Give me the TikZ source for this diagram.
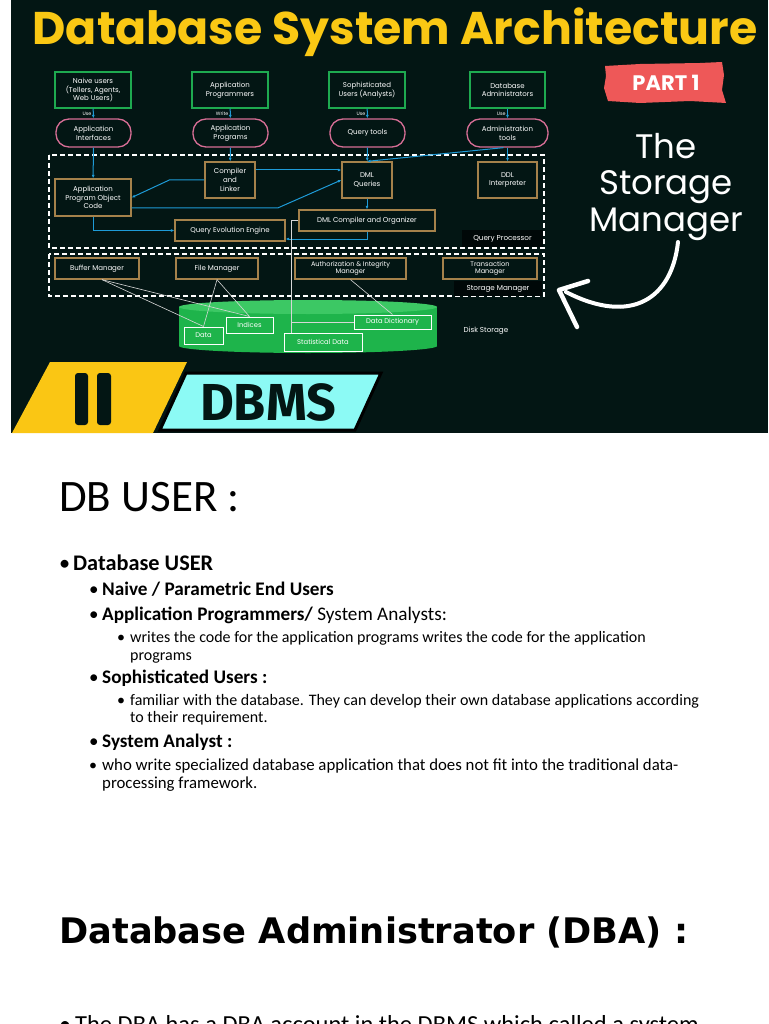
\documentclass[tikz,border=0pt]{standalone}
\usepackage{fontspec}
\usepackage{xcolor}
\usepackage{tikz}
\usetikzlibrary{positioning, arrows.meta}

\newfontfamily\diagfont{Poppins}
\newfontfamily\slidefont{Carlito}
\newfontfamily\headfont{DejaVu Sans}
\newfontfamily\bannerfont{Fira Sans}

\definecolor{panel}{RGB}{3,22,20}
\definecolor{titleyellow}{RGB}{250,200,20}
\definecolor{usergreen}{RGB}{30,170,80}
\definecolor{pillpink}{RGB}{215,110,150}
\definecolor{boxgold}{RGB}{165,130,75}
\definecolor{flowblue}{RGB}{30,155,215}
\definecolor{wiregray}{RGB}{215,215,215}
\definecolor{diskgreen}{RGB}{30,180,75}
\definecolor{disktop}{RGB}{60,200,100}
\definecolor{tagbg}{RGB}{0,8,8}
\definecolor{partred}{RGB}{238,88,88}
\definecolor{bandyellow}{RGB}{250,198,20}
\definecolor{bandcyan}{RGB}{140,250,245}

\begin{document}
\begin{tikzpicture}[
    x=1pt, y=-1pt,
    ubox/.style={draw=usergreen, line width=1.3pt, fill=panel, text=white, align=center, inner sep=0pt, font=\diagfont\fontsize{7}{8.8}\selectfont},
    pill/.style={draw=pillpink, line width=1.3pt, rounded corners=13pt, fill=panel, text=white, align=center, inner sep=0pt, minimum height=28pt, font=\diagfont\fontsize{7}{8.8}\selectfont},
    cbox/.style={draw=boxgold, line width=1.3pt, fill=panel, text=white, align=center, inner sep=0pt, font=\diagfont\fontsize{7}{8.8}\selectfont},
    dbox/.style={draw=white, line width=1pt, fill=diskgreen, text=white, align=center, inner sep=0pt, font=\diagfont\fontsize{6.8}{8}\selectfont},
    tag/.style={fill=tagbg, text=white, inner sep=0pt, font=\diagfont\fontsize{7.2}{8}\selectfont},
    uselbl/.style={text=white, inner sep=1.5pt, font=\diagfont\fontsize{4.8}{5}\selectfont},
    flow/.style={draw=flowblue, line width=1pt, -{Latex[length=3.5pt,width=3pt]}},
    wire/.style={draw=wiregray, line width=0.6pt},
    frame/.style={draw=white, dash pattern=on 5pt off 3pt, line width=1.3pt},
    bullet/.style={anchor=base west, inner sep=0pt},
    item/.style={anchor=base west, inner sep=0pt, align=left}
]
\useasboundingbox (0,0) rectangle (768,1024);
\fill[white] (0,0) rectangle (768,1024);
\fill[panel] (11,0) rectangle (768,433);

% title
\node[text=titleyellow, font=\diagfont\bfseries\fontsize{45.8}{48}\selectfont] (title) at (395,32) {Database System Architecture};

% disk
\fill[diskgreen] (179,307) rectangle (437,346);
\fill[diskgreen] (308,346) ellipse [x radius=129, y radius=7];
\fill[disktop] (308,307) ellipse [x radius=129, y radius=7];

% query processor / storage manager frames
\draw[frame] (49,155) rectangle (544,248);
\draw[frame] (49,254) rectangle (544,296);
\node[tag, minimum width=81pt, minimum height=17pt] (qplabel) at (502.5,238.5) {Query Processor};
\node[tag, minimum width=88pt, minimum height=15pt] (smlabel) at (498,288.5) {Storage Manager};
\node[text=white, inner sep=0pt, font=\diagfont\fontsize{7.2}{8}\selectfont] (disklabel) at (486,331) {Disk Storage};

% users
\node[ubox, minimum width=76pt, minimum height=36pt] (naive) at (93,90) {Naive users\\(Tellers, Agents,\\Web Users)};
\node[ubox, minimum width=76pt, minimum height=36pt] (appprog) at (230,90) {Application\\Programmers};
\node[ubox, minimum width=76pt, minimum height=36pt] (sophist) at (367,90) {Sophisticated\\Users (Analysts)};
\node[ubox, minimum width=75pt, minimum height=36pt] (dbadm) at (507.5,90) {Database\\Administrators};

% tools
\node[pill, minimum width=75pt] (appif) at (93.5,133) {Application\\Interfaces};
\node[pill, minimum width=75pt] (appprg) at (230.5,133) {Application\\Programs};
\node[pill, minimum width=75pt] (qtools) at (367.5,133) {Query tools};
\node[pill, minimum width=81pt] (admtools) at (507.5,133) {Administration\\tools};

% query processor parts
\node[cbox, minimum width=76pt, minimum height=37pt] (objcode) at (93,197.5) {Application\\Program Object\\Code};
\node[cbox, minimum width=50pt, minimum height=36pt] (compiler) at (230,180) {Compiler\\and\\Linker};
\node[cbox, minimum width=50pt, minimum height=36pt] (dmlq) at (367,180) {DML\\Queries};
\node[cbox, minimum width=59pt, minimum height=36pt] (ddl) at (507.5,180) {DDL\\Interpreter};
\node[cbox, minimum width=110pt, minimum height=21pt] (qee) at (230,230.5) {Query Evolution Engine};
\node[cbox, minimum width=136pt, minimum height=21pt] (dmlc) at (367,220.5) {DML Compiler and Organizer};

% storage manager parts
\node[cbox, minimum width=84pt, minimum height=21pt] (buffer) at (97,268.5) {Buffer Manager};
\node[cbox, minimum width=82pt, minimum height=21pt] (filem) at (217,268.5) {File Manager};
\node[cbox, minimum width=111pt, minimum height=21pt, font=\diagfont\fontsize{6.6}{7.6}\selectfont] (authm) at (350.5,268.5) {Authorization \& Integrity\\Manager};
\node[cbox, minimum width=94pt, minimum height=21pt, font=\diagfont\fontsize{6.6}{7.6}\selectfont] (transm) at (490,268.5) {Transaction\\Manager};

% disk contents
\node[dbox, minimum width=39pt, minimum height=17pt] (data) at (203.5,335.5) {Data};
\node[dbox, minimum width=47pt, minimum height=16pt] (indices) at (249.5,325) {Indices};
\node[dbox, minimum width=78pt, minimum height=18pt] (statd) at (323,342) {Statistical Data};
\node[dbox, minimum width=77pt, minimum height=14pt] (dictd) at (392.5,322) {Data Dictionary};

% blue flow
\draw[flow] (naive) -- node[uselbl, left] {Use} (appif);
\draw[flow] (appprog) -- node[uselbl, left] {Write} (appprg);
\draw[flow] (sophist) -- node[uselbl, left] {Use} (qtools);
\draw[flow] (dbadm) -- node[uselbl, left] {Use} (admtools);
\draw[flow] (appif) -- (objcode);
\draw[flow] (appprg) -- (compiler);
\draw[flow] (qtools) -- (dmlq);
\draw[flow] (admtools) -- (ddl);
\draw[flow] ([xshift=-4pt]admtools.south) -- (dmlq.north);
\draw[flow] (compiler.west) -- ++(-35,0) -- (objcode.east);
\draw[flow] ([yshift=10pt]compiler.east) -- ([yshift=10pt]dmlq.west);
\draw[flow] ([yshift=-10.5pt]objcode.east) -- ++(146,0) -- (dmlq.west);
\draw[flow] (objcode.south) |- (qee.west);
\draw[flow] (dmlq) -- (dmlc);
\draw[flow] (dmlc.south) |- ([yshift=-8.5pt]qee.east);

% white wires
\draw[wire] ([xshift=5pt]buffer.south) -- (data.north);
\draw[wire] ([xshift=5pt]buffer.south) -- (indices.north);
\draw[wire] (filem.south) -- (data.north);
\draw[wire] (filem.south) -- (indices.north);
\draw[wire] (authm.south) -- (dictd.north);
\draw[wire] (dmlc.west) -- ++(-7,0) coordinate (tap) -- (tap |- statd.north);
\draw[wire] (tap |- dictd.west) -- (dictd.west);

% right side
\fill[partred] (605,66) -- (640,64) -- (700,63) -- (722,62) -- (724,75) -- (722,90) -- (726,103) -- (690,101) -- (640,103) -- (608,101) -- (604,88) -- (606,76) -- cycle;
\node[text=white, font=\diagfont\bfseries\fontsize{21}{22}\selectfont] (part) at (666,83) {PART 1};
\node[text=white, align=center, font=\diagfont\fontsize{34}{36.5}\selectfont] (storage) at (666,187) {The\\Storage\\Manager};
\draw[white, line width=4pt, line cap=round] (678,242) .. controls (672,298) and (632,326) .. (566,292);
\draw[white, line width=4.5pt, line cap=round, line join=round] (588,281) -- (559,290) -- (577,327);

% bottom banner
\fill[bandyellow] (50,362) -- (187,362) -- (153,433) -- (12,433) -- cycle;
\fill[panel, rounded corners=3pt] (75,373) rectangle (88,425);
\fill[panel, rounded corners=3pt] (97,373) rectangle (111,425);
\filldraw[fill=bandcyan, draw=black, line width=3pt] (186,373) -- (381,373) -- (355,430) -- (160,430) -- cycle;
\node[text=panel, font=\bannerfont\bfseries\fontsize{52}{52}\selectfont] (dbms) at (268,402) {DBMS};

% slide text
\node[item, font=\slidefont\fontsize{45}{45}\selectfont] (dbuser) at (59,511) {DB USER :};

\node[bullet, font=\slidefont\fontsize{22.3}{26}\selectfont] (b1) at (59,570) {•};
\node[item, font=\slidefont\bfseries\fontsize{22.3}{26}\selectfont] (t1) at (73,570) {Database USER};
\node[bullet, font=\slidefont\fontsize{19}{22}\selectfont] (b2) at (89,595) {•};
\node[item, font=\slidefont\bfseries\fontsize{19.2}{22}\selectfont] (t2) at (102,595) {Naive / Parametric End Users};
\node[bullet, font=\slidefont\fontsize{19}{22}\selectfont] (b3) at (89,620) {•};
\node[item, font=\slidefont\fontsize{19.2}{22}\selectfont] (t3) at (102,620) {\textbf{Application Programmers/} System Analysts:};
\node[bullet, font=\slidefont\fontsize{16}{18}\selectfont] (b4) at (117,642) {•};
\node[item, font=\slidefont\fontsize{16}{18}\selectfont] (t4) at (130,660) {writes the code for the application programs writes the code for the application\\programs};
\node[bullet, font=\slidefont\fontsize{19}{22}\selectfont] (b5) at (89,683) {•};
\node[item, font=\slidefont\bfseries\fontsize{19.2}{22}\selectfont] (t5) at (102,683) {Sophisticated Users :};
\node[bullet, font=\slidefont\fontsize{16}{18}\selectfont] (b6) at (117,705) {•};
\node[item, font=\slidefont\fontsize{16}{17.5}\selectfont] (t6) at (130,722.5) {familiar with the database. They can develop their own database applications according\\to their requirement.};
\node[bullet, font=\slidefont\fontsize{19}{22}\selectfont] (b7) at (89,747) {•};
\node[item, font=\slidefont\bfseries\fontsize{19.2}{22}\selectfont] (t7) at (102,747) {System Analyst :};
\node[bullet, font=\slidefont\fontsize{16}{18}\selectfont] (b8) at (89,770) {•};
\node[item, font=\slidefont\fontsize{16.8}{18}\selectfont] (t8) at (102,788) {who write specialized database application that does not fit into the traditional data-\\processing framework.};

\node[item, font=\headfont\bfseries\fontsize{35.2}{40}\selectfont] (dbahead) at (59,943) {Database Administrator (DBA) :};

\node[bullet, font=\slidefont\fontsize{24}{26}\selectfont] (b9) at (59,1032) {•};
\node[item, font=\slidefont\fontsize{24.5}{26}\selectfont] (t9) at (75,1032) {The DBA has a DBA account in the DBMS which called a system};
\end{tikzpicture}
\end{document}
